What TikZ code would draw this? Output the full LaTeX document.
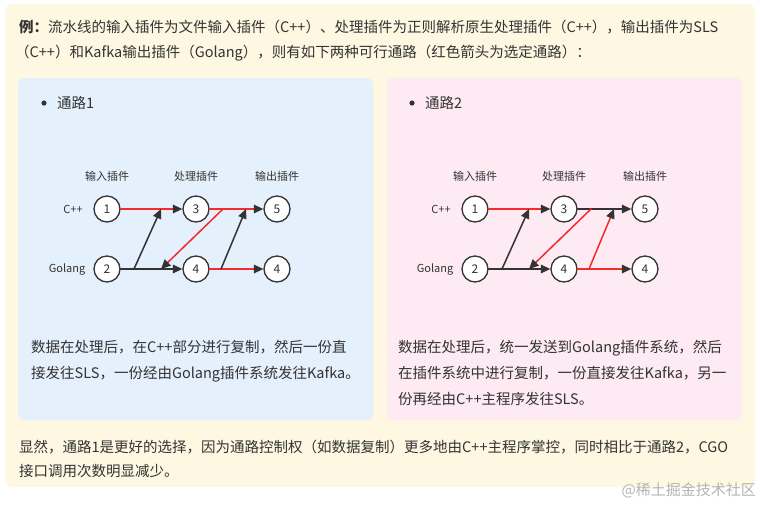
\documentclass[tikz,border=0pt]{standalone}
\usepackage{fontspec}
\setmainfont{Noto Sans CJK SC}
\usetikzlibrary{arrows.meta}
\definecolor{outerbg}{HTML}{FEF8E2}
\definecolor{bluebg}{HTML}{E4F0FC}
\definecolor{pinkbg}{HTML}{FDEAF2}
\definecolor{ink}{HTML}{333333}
\definecolor{redline}{HTML}{F52A2A}
\definecolor{mark}{HTML}{B4B4B4}

\begin{document}
\begin{tikzpicture}[x=1pt,y=-1pt,line cap=round,line join=round,
    txt/.style={anchor=base west,inner sep=0pt,text=ink,font=\fontsize{14.5}{17}\selectfont},
    plug/.style={circle,draw=ink,fill=white,line width=1.3pt,minimum size=26pt,inner sep=0pt,text=ink,font=\fontsize{12}{13}\selectfont},
    lbl/.style={inner sep=0pt,text=ink,font=\fontsize{11}{12}\selectfont},
    tip/.style={-{Triangle[length=9.5pt,width=8.5pt,color=ink]}},
    blk/.style={draw=ink,line width=1.5pt,tip},
    rd/.style={draw=redline,line width=1.5pt,tip}]
    \useasboundingbox (0,0) rectangle (760,504);
    \fill[white] (0,0) rectangle (760,504);
    % panels
    \fill[outerbg,rounded corners=8pt] (5,4) rectangle (755,487);
    \fill[bluebg,rounded corners=6pt] (18,78) rectangle (373,420);
    \fill[pinkbg,rounded corners=6pt] (387,78) rectangle (742,420);
    % intro
    \node[txt] (intro1) at (19,32.5) {\textbf{例：}流水线的输入插件为文件输入插件（C++）、处理插件为正则解析原生处理插件（C++），输出插件为SLS};
    \node[txt] (intro2) at (15,57.5) {（C++）和Kafka输出插件（Golang），则有如下两种可行通路（红色箭头为选定通路）：};
    % the two graphs
    \foreach \p/\dx/\n in {a/0/1,b/368/2}{
        \begin{scope}[xshift=\dx]
            \fill[ink] (44,103) circle (2.6pt);
            \node[txt] (\p title) at (57,108.5) {通路\n};
            \node[lbl] (\p hin) at (107,176) {输入插件};
            \node[lbl] (\p hpr) at (196,176) {处理插件};
            \node[lbl] (\p hout) at (277,176) {输出插件};
            \node[lbl] (\p cpp) at (73,209) {C++};
            \node[lbl] (\p go) at (67,269) {Golang};
            \node[plug] (\p1) at (107,209) {1};
            \node[plug] (\p2) at (107,269) {2};
            \node[plug] (\p3) at (196,209) {3};
            \node[plug] (\p4) at (196,269) {4};
            \node[plug] (\p5) at (277,209) {5};
            \node[plug] (\p6) at (277,269) {4};
            \coordinate (\p s1) at (134,269);
            \coordinate (\p e1) at (161,209);
            \coordinate (\p s2) at (223,209);
            \coordinate (\p e2) at (161,269);
            \coordinate (\p s3) at (221,269);
            \coordinate (\p e3) at (246,209);
        \end{scope}
    }
    % path 1
    \draw[rd] (a1) -- (a3);
    \draw[blk] (a2) -- (a4);
    \draw[blk] (as1) -- (ae1);
    \draw[rd] (a3) -- (a5);
    \draw[rd] (as2) -- (ae2);
    \draw[rd] (a4) -- (a6);
    \draw[blk] (as3) -- (ae3);
    % path 2
    \draw[rd] (b1) -- (b3);
    \draw[blk] (b2) -- (b4);
    \draw[blk] (bs1) -- (be1);
    \draw[blk] (b3) -- (b5);
    \draw[rd] (bs2) -- (be2);
    \draw[rd] (b4) -- (b6);
    \draw[rd] (bs3) -- (be3);
    % notes
    \node[txt] (anote1) at (31,352.5) {数据在处理后，在C++部分进行复制，然后一份直};
    \node[txt] (anote2) at (31,378.5) {接发往SLS，一份经由Golang插件系统发往Kafka。};
    \node[txt] (bnote1) at (398,352.5) {数据在处理后，统一发送到Golang插件系统，然后};
    \node[txt] (bnote2) at (398,378.5) {在插件系统中进行复制，一份直接发往Kafka，另一};
    \node[txt] (bnote3) at (398,404.5) {份再经由C++主程序发往SLS。};
    \node[txt] (end1) at (19,452) {显然，通路1是更好的选择，因为通路控制权（如数据复制）更多地由C++主程序掌控，同时相比于通路2，CGO};
    \node[txt] (end2) at (19,476) {接口调用次数明显减少。};
    \node[anchor=base east,inner sep=0pt,text=mark,font=\fontsize{15}{17}\selectfont] (wm) at (756,495) {@稀土掘金技术社区};
\end{tikzpicture}
\end{document}
